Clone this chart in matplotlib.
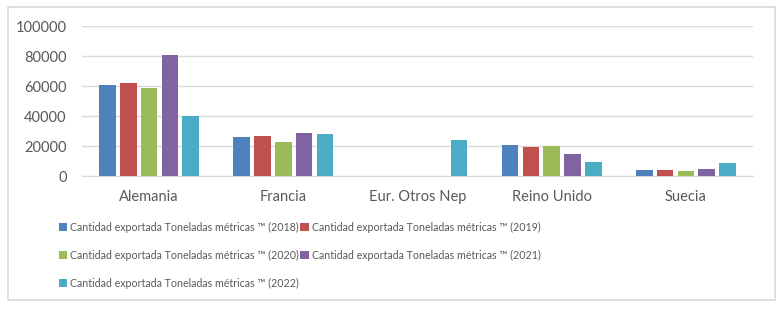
import numpy as np
import matplotlib.pyplot as plt
from matplotlib.patches import Rectangle

plt.rcParams['font.family'] = ['Lato', 'DejaVu Sans']

paises = ["Alemania", "Francia", "Eur. Otros Nep", "Reino Unido", "Suecia"]
anios = ["2018", "2019", "2020", "2021", "2022"]
v2018 = [60400, 26200, 0, 20700, 4000]
v2019 = [62000, 26700, 0, 19100, 4000]
v2020 = [58900, 22700, 0, 20000, 3300]
v2021 = [80900, 28400, 0, 14400, 4400]
v2022 = [39800, 28000, 23800, 9600, 8700]
colores = ["#4F81BD", "#C0504D", "#9BBB59", "#8064A2", "#4BACC6"]

series = [v2018, v2019, v2020, v2021, v2022]

fig = plt.figure(figsize=(7.82, 3.10), dpi=100)
fig.patches.append(Rectangle((8/782, 1-300/310), 767/782, 293/310, transform=fig.transFigure,
                             fill=False, edgecolor="#d9d9d9", linewidth=1.2))
ax = fig.add_axes([82/782, 1-176/310, 671/782, 150/310])

x = np.arange(len(paises))
paso = 0.155
barras = []
for i, vals in enumerate(series):
    b = ax.bar(x + (i - 2) * paso, vals, width=paso * 0.8, color=colores[i],
               label="Cantidad exportada Toneladas métricas ™ (%s)" % anios[i], zorder=3)
    barras.append(b)

ax.set_xlim(-0.5, len(paises) - 0.5)
ax.set_ylim(0, 100000)
ax.set_yticks(range(0, 100001, 20000))
ax.set_xticks(x)
ax.set_xticklabels(paises)
ax.grid(axis="y", color="#d9d9d9", linewidth=1, zorder=0)
for s in ["top", "right", "left"]:
    ax.spines[s].set_visible(False)
ax.spines["bottom"].set_color("#d9d9d9")
ax.tick_params(length=0, labelsize=10.5, colors="#595959")
ax.tick_params(axis="x", pad=10)
ax.tick_params(axis="y", pad=11)

# orden por filas en la leyenda
orden = [0, 2, 4, 1, 3]
hs = [barras[i] for i in orden]
ls = [barras[i].get_label() for i in orden]
fig.legend(hs, ls, loc="upper left", bbox_to_anchor=(49/782, 1-212/310), ncol=2, frameon=False,
           fontsize=7.7, handlelength=0.8, handleheight=0.8, handletextpad=0.3,
           columnspacing=0.1, labelspacing=1.6, labelcolor="#595959")

plt.savefig("out.png")
